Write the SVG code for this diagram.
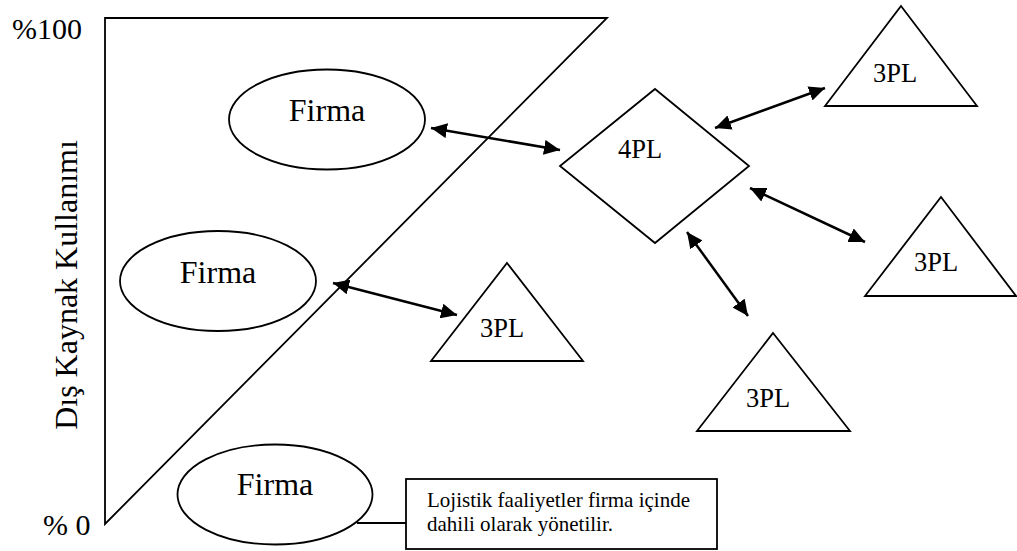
<svg xmlns="http://www.w3.org/2000/svg" width="1017" height="551" viewBox="0 0 1017 551">
<style>
.sh{fill:#fff;stroke:#000;stroke-width:1.8}
.t{font-family:"Liberation Serif","Times New Roman",serif;fill:#000}
.lbl{font-size:32px;text-anchor:middle}
.pl{font-size:26.5px;text-anchor:middle}
.ax{font-size:30px}
.note{font-size:21px}
.con{stroke:#000;stroke-width:2.5;fill:none;marker-start:url(#ah);marker-end:url(#ah)}
</style>
<defs>
<marker id="ah" markerUnits="userSpaceOnUse" markerWidth="17" markerHeight="15" refX="16" refY="7.5" orient="auto-start-reverse">
<path d="M0,0 L16,7.5 L0,15 z" fill="#000"/>
</marker>
</defs>
<rect width="1017" height="551" fill="#fff"/>
<g id="axis">
<polygon points="105,18 607,18 105,524" fill="none" stroke="#000" stroke-width="1.8"/>
<text class="t ax" x="12" y="39">%100</text>
<text class="t ax" x="43" y="535">% 0</text>
<text class="t ax" transform="translate(77,285) rotate(-90)" text-anchor="middle" style="font-size:32px">Dış Kaynak Kullanımı</text>
</g>
<g id="firma-top">
<ellipse class="sh" cx="327" cy="119.5" rx="98" ry="50"/>
<text class="t lbl" x="327" y="121">Firma</text>
</g>
<g id="firma-mid">
<ellipse class="sh" cx="218" cy="281" rx="98" ry="50"/>
<text class="t lbl" x="218" y="283">Firma</text>
</g>
<g id="firma-bottom">
<ellipse class="sh" cx="275" cy="494.5" rx="97.5" ry="50"/>
<text class="t lbl" x="275" y="495">Firma</text>
</g>
<g id="note">
<rect class="sh" x="406" y="479" width="311" height="70"/>
<text class="t note" x="427" y="507">Lojistik faaliyetler firma içinde</text>
<text class="t note" x="427" y="531">dahili olarak yönetilir.</text>
</g>
<g id="pl4">
<polygon class="sh" points="655,89 749,166 655,243 560,166"/>
<text class="t pl" x="640" y="158">4PL</text>
</g>
<g id="pl3-top">
<polygon class="sh" points="901,6 977,106 825,106"/>
<text class="t pl" x="895" y="82">3PL</text>
</g>
<g id="pl3-right">
<polygon class="sh" points="941,197 1016,296 865,296"/>
<text class="t pl" x="936" y="271">3PL</text>
</g>
<g id="pl3-bottom">
<polygon class="sh" points="773,333 850,431 697,431"/>
<text class="t pl" x="768" y="407">3PL</text>
</g>
<g id="pl3-mid">
<polygon class="sh" points="507,263 583,361 431,361"/>
<text class="t pl" x="502" y="337">3PL</text>
</g>
<g id="connectors">
<line class="con" x1="431" y1="128" x2="560" y2="150"/>
<line class="con" x1="715" y1="128" x2="825" y2="88"/>
<line class="con" x1="750" y1="188" x2="865" y2="242"/>
<line class="con" x1="687" y1="232" x2="748" y2="316"/>
<line class="con" x1="333" y1="283" x2="457" y2="315"/>
<line x1="357" y1="523" x2="406" y2="523" stroke="#000" stroke-width="1.8"/>
</g>
</svg>
